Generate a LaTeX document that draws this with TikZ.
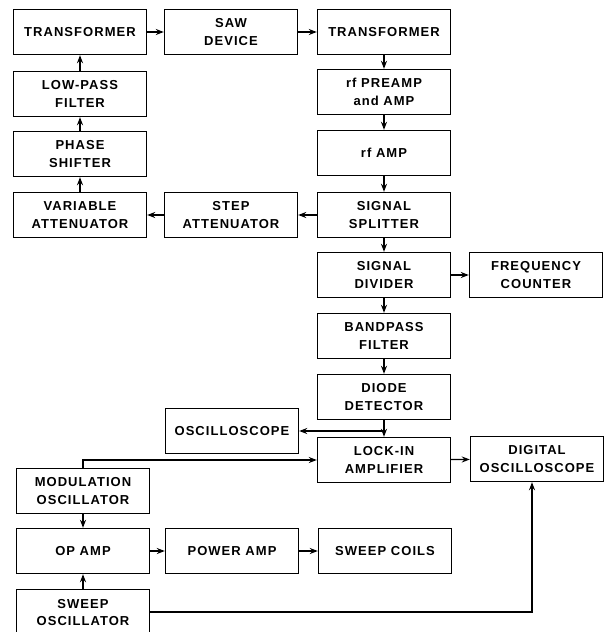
\documentclass[tikz,border=0pt]{standalone}
\usepackage{fontspec}
\newfontfamily\blkfont[LetterSpace=8]{Liberation Sans Bold}
\usetikzlibrary{arrows.meta}
\begin{document}
\begin{tikzpicture}[x=1pt,y=-1pt,
  blk/.style={draw, line width=1.4pt, minimum width=133pt, minimum height=45pt,
    inner sep=0pt, align=center, font=\blkfont\fontsize{13}{17.3}\selectfont},
  arr/.style={line width=1.2pt, -{Stealth[length=8pt,width=6pt]}}]
\useasboundingbox (0,0) rectangle (605,632);
\clip (0,0) rectangle (605,632);
% top row
\node[blk] (trL) at (80,32) {TRANSFORMER};
\node[blk] (saw) at (231,32) {SAW\\DEVICE};
\node[blk] (trR) at (384,32) {TRANSFORMER};
% left column
\node[blk] (lp) at (80,94) {LOW-PASS\\FILTER};
\node[blk] (ps) at (80,154) {PHASE\\SHIFTER};
\node[blk] (va) at (80,215) {VARIABLE\\ATTENUATOR};
\node[blk] (sa) at (231,215) {STEP\\ATTENUATOR};
% right column
\node[blk] (rfp) at (384,92) {rf PREAMP\\and AMP};
\node[blk] (rfa) at (384,153) {rf AMP};
\node[blk] (ss) at (384,215) {SIGNAL\\SPLITTER};
\node[blk] (sd) at (384,275) {SIGNAL\\DIVIDER};
\node[blk] (fc) at (536,275) {FREQUENCY\\COUNTER};
\node[blk] (bp) at (384,336) {BANDPASS\\FILTER};
\node[blk] (dd) at (384,397) {DIODE\\DETECTOR};
\node[blk] (osc) at (232,431) {OSCILLOSCOPE};
\node[blk] (li) at (384,460) {LOCK-IN\\AMPLIFIER};
\node[blk] (dig) at (537,459) {DIGITAL\\OSCILLOSCOPE};
% bottom
\node[blk] (mod) at (83,491) {MODULATION\\OSCILLATOR};
\node[blk] (op) at (83,551) {OP AMP};
\node[blk] (pa) at (232,551) {POWER AMP};
\node[blk] (sc) at (385,551) {SWEEP COILS};
\node[blk, anchor=north] (sw) at (83,589) {SWEEP\\OSCILLATOR};
% connectors
\draw[arr] (trL) -- (saw);
\draw[arr] (saw) -- (trR);
\draw[arr] (trR) -- (rfp);
\draw[arr] (rfp) -- (rfa);
\draw[arr] (rfa) -- (ss);
\draw[arr] (ss) -- (sd);
\draw[arr] (sd) -- (bp);
\draw[arr] (bp) -- (dd);
\draw[arr] (dd) -- (li);
\draw[arr] (sd) -- (fc);
\draw[arr] (ss) -- (sa);
\draw[arr] (sa) -- (va);
\draw[arr] (va) -- (ps);
\draw[arr] (ps) -- (lp);
\draw[arr] (lp) -- (trL);
\coordinate (br) at (384,431);
\draw[arr] (br) -- (osc.east);
\draw[arr] (mod.north) |- (li.west);
\draw[arr] (li) -- (dig);
\draw[arr] (mod) -- (op);
\draw[arr] (sw) -- (op);
\draw[arr] (op) -- (pa);
\draw[arr] (pa) -- (sc);
\coordinate (k) at (532,612);
\draw[arr] (sw.east |- k) -- (k) -- (k |- dig.south);
\end{tikzpicture}
\end{document}
